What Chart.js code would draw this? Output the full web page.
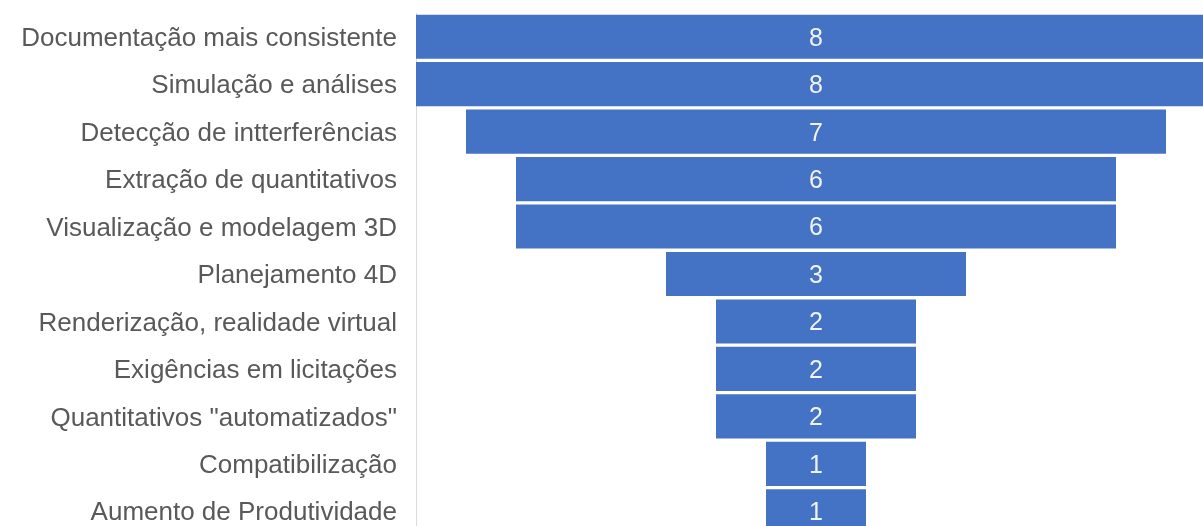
<!DOCTYPE html>
<html>
<head>
<meta charset="utf-8">
<script src="https://cdn.jsdelivr.net/npm/chart.js@4.4.0/dist/chart.umd.min.js"></script>
<style>
html,body{margin:0;padding:0;background:#fff;overflow:hidden;}
#wrap{position:relative;width:1203px;height:535px;}
</style>
</head>
<body>
<div id="wrap"><canvas id="c"></canvas></div>
<script>
const categories = [
  "Documentação mais consistente",
  "Simulação e análises",
  "Detecção de intterferências",
  "Extração de quantitativos",
  "Visualização e modelagem 3D",
  "Planejamento 4D",
  "Renderização, realidade virtual",
  "Exigências em licitações",
  "Quantitativos \"automatizados\"",
  "Compatibilização",
  "Aumento de Produtividade"
];
const values = [8, 8, 7, 6, 6, 3, 2, 2, 2, 1, 1];

const funnelData = values.map(v => [-v / 2, v / 2]);

const valueLabels = {
  id: 'valueLabels',
  afterDatasetsDraw(chart) {
    const ctx = chart.ctx;
    const meta = chart.getDatasetMeta(0);
    ctx.save();
    ctx.fillStyle = '#f2f2f2';
    ctx.font = '25px "Liberation Sans", Arial, sans-serif';
    ctx.textAlign = 'center';
    ctx.textBaseline = 'middle';
    const cx = chart.scales.x.getPixelForValue(0);
    meta.data.forEach((bar, i) => {
      ctx.fillText(String(values[i]), cx, bar.y + 2);
    });
    ctx.restore();
  }
};

new Chart(document.getElementById('c'), {
  type: 'bar',
  data: {
    labels: categories,
    datasets: [{
      data: funnelData,
      backgroundColor: '#4472C4',
      borderWidth: 0,
      borderSkipped: false,
      categoryPercentage: 1,
      barPercentage: 0.93
    }]
  },
  options: {
    indexAxis: 'y',
    responsive: true,
    maintainAspectRatio: false,
    animation: false,
    layout: { padding: { top: 13, right: 0, bottom: 0, left: 0 } },
    plugins: { legend: { display: false }, tooltip: { enabled: false } },
    scales: {
      x: {
        display: false,
        min: -4,
        max: 3.87
      },
      y: {
        grid: { display: false, drawTicks: false },
        border: { display: true, color: '#d9d9d9', width: 1 },
        ticks: {
          color: '#595959',
          padding: 19,
          labelOffset: 2,
          font: { family: '"Liberation Sans", Arial, sans-serif', size: 26 }
        },
        afterFit(scale) {
          scale.width = 416;
          scale.paddingTop = 0;
          scale.paddingBottom = 0;
        }
      }
    }
  },
  plugins: [valueLabels]
});
</script>
</body>
</html>
